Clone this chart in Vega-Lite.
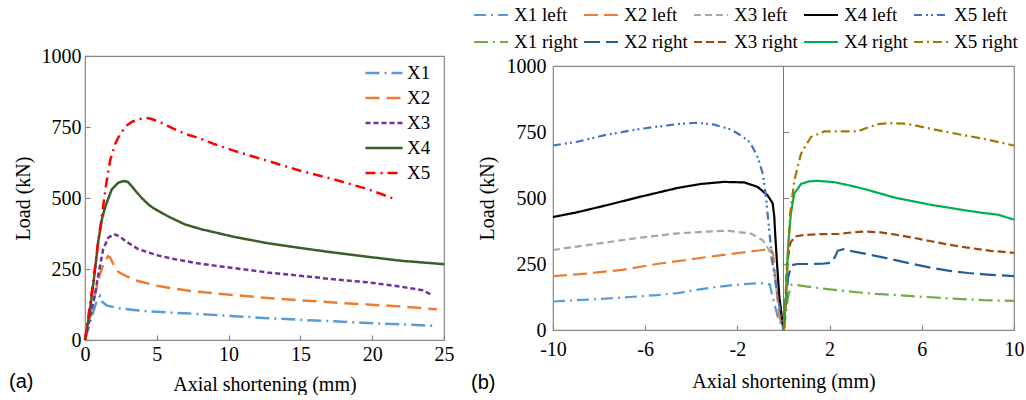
{
  "$schema": "https://vega.github.io/schema/vega-lite/v6.json",
  "background": "white",
  "padding": {"left": 8, "top": 4, "right": 0, "bottom": 0},
  "bounds": "flush",
  "center": true,
  "spacing": 109,
  "datasets": {
    "a": [
      {"s":"X1","x":0,"y":0},{"s":"X1","x":0.4,"y":70},{"s":"X1","x":0.8,"y":135},{"s":"X1","x":1.05,"y":155},{"s":"X1","x":1.2,"y":135},{"s":"X1","x":1.5,"y":122},{"s":"X1","x":2.3,"y":112},{"s":"X1","x":3.4,"y":106},{"s":"X1","x":4.6,"y":100},{"s":"X1","x":7,"y":94},{"s":"X1","x":8.1,"y":91},{"s":"X1","x":10.4,"y":84},{"s":"X1","x":12.7,"y":77},{"s":"X1","x":15,"y":71},{"s":"X1","x":17.3,"y":66},{"s":"X1","x":19.7,"y":60},{"s":"X1","x":22,"y":55},{"s":"X1","x":24.3,"y":50},
      {"s":"X2","x":0,"y":0},{"s":"X2","x":0.3,"y":70},{"s":"X2","x":0.58,"y":137},{"s":"X2","x":1.04,"y":232},{"s":"X2","x":1.3,"y":270},{"s":"X2","x":1.6,"y":295},{"s":"X2","x":1.75,"y":290},{"s":"X2","x":2.0,"y":265},{"s":"X2","x":2.32,"y":240},{"s":"X2","x":2.74,"y":228},{"s":"X2","x":3.5,"y":210},{"s":"X2","x":5.1,"y":190},{"s":"X2","x":7,"y":175},{"s":"X2","x":8.1,"y":169},{"s":"X2","x":10.4,"y":158},{"s":"X2","x":12.7,"y":148},{"s":"X2","x":15,"y":140},{"s":"X2","x":17.3,"y":132},{"s":"X2","x":19.7,"y":125},{"s":"X2","x":22,"y":118},{"s":"X2","x":24.5,"y":108},
      {"s":"X3","x":0,"y":0},{"s":"X3","x":0.3,"y":70},{"s":"X3","x":0.7,"y":160},{"s":"X3","x":0.93,"y":231},{"s":"X3","x":1.27,"y":320},{"s":"X3","x":1.62,"y":360},{"s":"X3","x":2.0,"y":373},{"s":"X3","x":2.4,"y":365},{"s":"X3","x":2.8,"y":349},{"s":"X3","x":3.7,"y":320},{"s":"X3","x":5.06,"y":298},{"s":"X3","x":6.2,"y":285},{"s":"X3","x":8.1,"y":268},{"s":"X3","x":10.4,"y":253},{"s":"X3","x":12.7,"y":238},{"s":"X3","x":15,"y":226},{"s":"X3","x":17.3,"y":214},{"s":"X3","x":19.7,"y":203},{"s":"X3","x":22,"y":188},{"s":"X3","x":23.5,"y":175},{"s":"X3","x":24.1,"y":160},
      {"s":"X4","x":0,"y":0},{"s":"X4","x":0.3,"y":90},{"s":"X4","x":0.58,"y":197},{"s":"X4","x":0.93,"y":349},{"s":"X4","x":1.2,"y":430},{"s":"X4","x":1.39,"y":466},{"s":"X4","x":1.86,"y":530},{"s":"X4","x":2.32,"y":554},{"s":"X4","x":2.74,"y":560},{"s":"X4","x":3.0,"y":556},{"s":"X4","x":3.25,"y":542},{"s":"X4","x":3.6,"y":520},{"s":"X4","x":3.95,"y":500},{"s":"X4","x":4.4,"y":478},{"s":"X4","x":4.8,"y":463},{"s":"X4","x":5.8,"y":435},{"s":"X4","x":6.96,"y":407},{"s":"X4","x":8.1,"y":390},{"s":"X4","x":10.4,"y":363},{"s":"X4","x":12.7,"y":341},{"s":"X4","x":15,"y":324},{"s":"X4","x":17.3,"y":308},{"s":"X4","x":19.7,"y":293},{"s":"X4","x":22,"y":279},{"s":"X4","x":25,"y":267},
      {"s":"X5","x":0,"y":0},{"s":"X5","x":0.2,"y":70},{"s":"X5","x":0.5,"y":180},{"s":"X5","x":0.7,"y":255},{"s":"X5","x":0.9,"y":340},{"s":"X5","x":1.16,"y":431},{"s":"X5","x":1.45,"y":540},{"s":"X5","x":1.74,"y":630},{"s":"X5","x":2.1,"y":690},{"s":"X5","x":2.44,"y":725},{"s":"X5","x":2.9,"y":755},{"s":"X5","x":3.25,"y":768},{"s":"X5","x":3.8,"y":778},{"s":"X5","x":4.2,"y":782},{"s":"X5","x":4.6,"y":779},{"s":"X5","x":5.3,"y":765},{"s":"X5","x":6.0,"y":748},{"s":"X5","x":7.0,"y":725},{"s":"X5","x":8.0,"y":710},{"s":"X5","x":9,"y":690},{"s":"X5","x":10.4,"y":666},{"s":"X5","x":12.7,"y":631},{"s":"X5","x":15,"y":596},{"s":"X5","x":17.3,"y":566},{"s":"X5","x":19.7,"y":531},{"s":"X5","x":21.6,"y":496}
    ],
    "b": [
      {"s":"X1 left","x":-10,"y":108},{"s":"X1 left","x":-8.5,"y":115},{"s":"X1 left","x":-7,"y":123},{"s":"X1 left","x":-5.5,"y":132},{"s":"X1 left","x":-4.6,"y":140},{"s":"X1 left","x":-3.8,"y":152},{"s":"X1 left","x":-3.0,"y":162},{"s":"X1 left","x":-2.1,"y":171},{"s":"X1 left","x":-1.0,"y":178},{"s":"X1 left","x":-0.6,"y":173},{"s":"X1 left","x":-0.47,"y":125},{"s":"X1 left","x":-0.25,"y":50},{"s":"X1 left","x":0,"y":0},
      {"s":"X2 left","x":-10,"y":204},{"s":"X2 left","x":-8.5,"y":214},{"s":"X2 left","x":-7,"y":228},{"s":"X2 left","x":-5.5,"y":250},{"s":"X2 left","x":-4,"y":268},{"s":"X2 left","x":-3,"y":280},{"s":"X2 left","x":-2.1,"y":290},{"s":"X2 left","x":-1,"y":302},{"s":"X2 left","x":-0.55,"y":307},{"s":"X2 left","x":-0.45,"y":290},{"s":"X2 left","x":-0.33,"y":175},{"s":"X2 left","x":-0.18,"y":50},{"s":"X2 left","x":0,"y":0},
      {"s":"X3 left","x":-10,"y":303},{"s":"X3 left","x":-8,"y":328},{"s":"X3 left","x":-6.2,"y":350},{"s":"X3 left","x":-4.6,"y":366},{"s":"X3 left","x":-3.3,"y":373},{"s":"X3 left","x":-2.4,"y":376},{"s":"X3 left","x":-1.41,"y":365},{"s":"X3 left","x":-0.9,"y":340},{"s":"X3 left","x":-0.62,"y":302},{"s":"X3 left","x":-0.4,"y":226},{"s":"X3 left","x":-0.18,"y":100},{"s":"X3 left","x":0,"y":0},
      {"s":"X4 left","x":-10,"y":428},{"s":"X4 left","x":-9,"y":445},{"s":"X4 left","x":-7.7,"y":472},{"s":"X4 left","x":-6.2,"y":505},{"s":"X4 left","x":-4.6,"y":538},{"s":"X4 left","x":-3.6,"y":553},{"s":"X4 left","x":-2.6,"y":561},{"s":"X4 left","x":-1.7,"y":559},{"s":"X4 left","x":-1.12,"y":542},{"s":"X4 left","x":-0.69,"y":510},{"s":"X4 left","x":-0.47,"y":480},{"s":"X4 left","x":-0.4,"y":430},{"s":"X4 left","x":-0.37,"y":378},{"s":"X4 left","x":-0.28,"y":251},{"s":"X4 left","x":-0.18,"y":125},{"s":"X4 left","x":0,"y":0},
      {"s":"X5 left","x":-10,"y":699},{"s":"X5 left","x":-9,"y":712},{"s":"X5 left","x":-7.7,"y":739},{"s":"X5 left","x":-6.2,"y":762},{"s":"X5 left","x":-4.6,"y":780},{"s":"X5 left","x":-3.8,"y":785},{"s":"X5 left","x":-3.0,"y":778},{"s":"X5 left","x":-2.3,"y":760},{"s":"X5 left","x":-1.84,"y":737},{"s":"X5 left","x":-1.46,"y":712},{"s":"X5 left","x":-1.27,"y":681},{"s":"X5 left","x":-1.1,"y":650},{"s":"X5 left","x":-0.9,"y":592},{"s":"X5 left","x":-0.76,"y":504},{"s":"X5 left","x":-0.62,"y":378},{"s":"X5 left","x":-0.47,"y":251},{"s":"X5 left","x":-0.25,"y":125},{"s":"X5 left","x":0,"y":0},
      {"s":"X1 right","x":0,"y":0},{"s":"X1 right","x":0.1,"y":60},{"s":"X1 right","x":0.2,"y":130},{"s":"X1 right","x":0.35,"y":172},{"s":"X1 right","x":0.6,"y":170},{"s":"X1 right","x":0.9,"y":166},{"s":"X1 right","x":1.6,"y":158},{"s":"X1 right","x":2.45,"y":150},{"s":"X1 right","x":3.2,"y":143},{"s":"X1 right","x":4.0,"y":137},{"s":"X1 right","x":4.8,"y":133},{"s":"X1 right","x":5.6,"y":128},{"s":"X1 right","x":6.4,"y":124},{"s":"X1 right","x":7.15,"y":120},{"s":"X1 right","x":8,"y":116},{"s":"X1 right","x":8.7,"y":113},{"s":"X1 right","x":10,"y":110},
      {"s":"X2 right","x":0,"y":0},{"s":"X2 right","x":0.1,"y":100},{"s":"X2 right","x":0.2,"y":200},{"s":"X2 right","x":0.35,"y":245},{"s":"X2 right","x":0.6,"y":250},{"s":"X2 right","x":1.2,"y":250},{"s":"X2 right","x":1.7,"y":251},{"s":"X2 right","x":2.1,"y":255},{"s":"X2 right","x":2.25,"y":280},{"s":"X2 right","x":2.35,"y":300},{"s":"X2 right","x":2.6,"y":306},{"s":"X2 right","x":3.0,"y":298},{"s":"X2 right","x":3.6,"y":288},{"s":"X2 right","x":4.2,"y":277},{"s":"X2 right","x":5.0,"y":262},{"s":"X2 right","x":5.6,"y":250},{"s":"X2 right","x":6.4,"y":236},{"s":"X2 right","x":7.15,"y":225},{"s":"X2 right","x":8,"y":216},{"s":"X2 right","x":8.7,"y":211},{"s":"X2 right","x":10,"y":204},
      {"s":"X3 right","x":0,"y":0},{"s":"X3 right","x":0.08,"y":100},{"s":"X3 right","x":0.15,"y":250},{"s":"X3 right","x":0.3,"y":330},{"s":"X3 right","x":0.5,"y":355},{"s":"X3 right","x":0.9,"y":360},{"s":"X3 right","x":1.6,"y":363},{"s":"X3 right","x":2.4,"y":364},{"s":"X3 right","x":3.0,"y":370},{"s":"X3 right","x":3.6,"y":373},{"s":"X3 right","x":4.2,"y":370},{"s":"X3 right","x":4.8,"y":362},{"s":"X3 right","x":5.6,"y":350},{"s":"X3 right","x":6.4,"y":336},{"s":"X3 right","x":7.2,"y":323},{"s":"X3 right","x":7.9,"y":313},{"s":"X3 right","x":9,"y":300},{"s":"X3 right","x":10,"y":292},
      {"s":"X4 right","x":0,"y":0},{"s":"X4 right","x":0.11,"y":125},{"s":"X4 right","x":0.2,"y":316},{"s":"X4 right","x":0.32,"y":441},{"s":"X4 right","x":0.47,"y":517},{"s":"X4 right","x":0.76,"y":553},{"s":"X4 right","x":1.1,"y":563},{"s":"X4 right","x":1.5,"y":565},{"s":"X4 right","x":2.2,"y":560},{"s":"X4 right","x":2.9,"y":547},{"s":"X4 right","x":3.6,"y":532},{"s":"X4 right","x":4.2,"y":517},{"s":"X4 right","x":4.8,"y":502},{"s":"X4 right","x":5.6,"y":488},{"s":"X4 right","x":6.4,"y":474},{"s":"X4 right","x":7.2,"y":463},{"s":"X4 right","x":7.9,"y":453},{"s":"X4 right","x":8.7,"y":443},{"s":"X4 right","x":9.3,"y":437},{"s":"X4 right","x":10,"y":418},
      {"s":"X5 right","x":0,"y":0},{"s":"X5 right","x":0.05,"y":11},{"s":"X5 right","x":0.11,"y":125},{"s":"X5 right","x":0.18,"y":277},{"s":"X5 right","x":0.29,"y":441},{"s":"X5 right","x":0.47,"y":567},{"s":"X5 right","x":0.76,"y":668},{"s":"X5 right","x":1.19,"y":731},{"s":"X5 right","x":1.77,"y":752},{"s":"X5 right","x":2.5,"y":752},{"s":"X5 right","x":3.2,"y":752},{"s":"X5 right","x":3.6,"y":765},{"s":"X5 right","x":4.1,"y":780},{"s":"X5 right","x":4.6,"y":784},{"s":"X5 right","x":5.2,"y":782},{"s":"X5 right","x":5.6,"y":777},{"s":"X5 right","x":6.4,"y":762},{"s":"X5 right","x":7.15,"y":749},{"s":"X5 right","x":8,"y":735},{"s":"X5 right","x":8.7,"y":724},{"s":"X5 right","x":10,"y":699}
    ]
  },
  "hconcat": [
    {
      "width": 359,
      "height": 284,
      "data": {"name": "a"},
      "title": {"text": "(a)", "orient": "bottom", "anchor": "start", "frame": "bounds", "font": "Liberation Sans", "fontSize": 20, "fontWeight": "normal", "color": "#000", "offset": -22, "dx": -4},
      "mark": {"type": "line", "strokeWidth": 2.5},
      "encoding": {
        "x": {"field": "x", "type": "quantitative", "scale": {"domain": [0, 25]}, "axis": {"title": "Axial shortening (mm)", "values": [0, 5, 10, 15, 20, 25], "format": "d", "labelFont": "Liberation Serif", "labelFlush": false, "tickSize": -5, "labelPadding": 9, "titlePadding": 10}},
        "y": {"field": "y", "type": "quantitative", "scale": {"domain": [0, 1000]}, "axis": {"title": "Load (kN)", "values": [0, 250, 500, 750, 1000], "format": "d", "labelFont": "Liberation Serif", "labelFlush": false, "tickSize": -5, "labelPadding": 9, "titlePadding": 8}},
        "color": {"field": "s", "type": "nominal", "scale": {"domain": ["X1", "X2", "X3", "X4", "X5"], "range": ["#5b9bd5", "#ed7d31", "#7030a0", "#3b5e2b", "#ff0000"]},
          "legend": {"orient": "none", "legendX": 279, "legendY": 7, "title": null, "direction": "vertical", "symbolType": "stroke", "symbolSize": 1369, "symbolStrokeWidth": 2.5, "clipHeight": 20, "rowPadding": 5, "labelOffset": 3, "labelFontSize": 19, "padding": 0}},
        "strokeDash": {"field": "s", "type": "nominal", "scale": {"domain": ["X1", "X2", "X3", "X4", "X5"], "range": [[14, 5, 2, 5], [14, 7], [5, 3], [1, 0], [10, 5, 2, 5]]},
          "legend": {"orient": "none", "legendX": 279, "legendY": 7, "title": null, "direction": "vertical", "symbolType": "stroke", "symbolSize": 1369, "symbolStrokeWidth": 2.5, "clipHeight": 20, "rowPadding": 5, "labelOffset": 3, "labelFontSize": 19, "padding": 0}}
      }
    },
    {
      "width": 461,
      "height": 264,
      "title": {"text": "(b)", "orient": "bottom", "anchor": "start", "frame": "bounds", "font": "Liberation Sans", "fontSize": 20, "fontWeight": "normal", "color": "#000", "offset": -18, "dx": -2},
      "layer": [
        {
          "data": {"name": "b"},
          "mark": {"type": "line", "strokeWidth": 2.2},
          "encoding": {
            "x": {"field": "x", "type": "quantitative", "scale": {"domain": [-10, 10]}, "axis": {"title": "Axial shortening (mm)", "values": [-10, -6, -2, 2, 6, 10], "labelExpr": "'' + datum.value", "labelFont": "Liberation Serif", "labelFlush": false, "tickSize": -5, "labelPadding": 14, "titlePadding": 12}},
            "y": {"field": "y", "type": "quantitative", "scale": {"domain": [0, 1000]}, "axis": {"orient": "left", "title": "Load (kN)", "values": [0, 250, 500, 750, 1000], "format": "d", "labelFont": "Liberation Serif", "labelFlush": false, "ticks": false, "labelPadding": 7, "titlePadding": 9}},
            "color": {"field": "s", "type": "nominal", "scale": {"domain": ["X1 left", "X2 left", "X3 left", "X4 left", "X5 left", "X1 right", "X2 right", "X3 right", "X4 right", "X5 right"], "range": ["#5b9bd5", "#ed7d31", "#a5a5a5", "#000000", "#4472c4", "#70ad47", "#255e91", "#9e480e", "#00b050", "#a07a00"]},
              "legend": {"orient": "none", "legendX": -80, "legendY": -61, "direction": "horizontal", "columns": 5, "title": null, "symbolType": "stroke", "symbolSize": 1156, "symbolStrokeWidth": 2, "clipHeight": 20, "rowPadding": 7, "columnPadding": 5, "labelOffset": 5, "labelFontSize": 19, "padding": 0}},
            "strokeDash": {"field": "s", "type": "nominal", "scale": {"domain": ["X1 left", "X2 left", "X3 left", "X4 left", "X5 left", "X1 right", "X2 right", "X3 right", "X4 right", "X5 right"], "range": [[12, 5, 2, 5], [14, 6], [7, 4], [1, 0], [8, 4, 2, 3, 2, 4], [14, 5, 2, 5], [16, 6], [8, 4], [1, 0], [9, 4, 2, 4]]},
              "legend": {"orient": "none", "legendX": -80, "legendY": -61, "direction": "horizontal", "columns": 5, "title": null, "symbolType": "stroke", "symbolSize": 1156, "symbolStrokeWidth": 2, "clipHeight": 20, "rowPadding": 7, "columnPadding": 5, "labelOffset": 5, "labelFontSize": 19, "padding": 0}}
          }
        },
        {
          "data": {"values": [{}]},
          "mark": {"type": "rule", "color": "#777", "strokeWidth": 1},
          "encoding": {
            "x": {"datum": 0, "type": "quantitative", "axis": {"title": "Axial shortening (mm)", "values": [-10, -6, -2, 2, 6, 10], "labelExpr": "'' + datum.value", "labelFont": "Liberation Serif", "labelFlush": false, "tickSize": -5, "labelPadding": 14, "titlePadding": 12}},
            "y": {"datum": 0, "type": "quantitative", "axis": {"orient": "right", "offset": -230.5, "labels": false, "title": null, "domain": false, "tickSize": 5, "values": [250, 500, 750]}},
            "y2": {"datum": 1000}
          }
        }
      ],
      "resolve": {"axis": {"y": "independent"}}
    }
  ],
  "resolve": {"scale": {"color": "independent", "strokeDash": "independent"}, "legend": {"color": "independent", "strokeDash": "independent"}},
  "config": {
    "font": "Liberation Serif",
    "view": {"stroke": "#888", "strokeWidth": 1.2},
    "axis": {"labelFont": "Liberation Serif", "labelFontSize": 20, "labelColor": "#000", "labelFlush": false, "titleFont": "Liberation Serif", "titleFontSize": 20, "titleFontWeight": "normal", "titleColor": "#000", "grid": false, "domain": false, "tickColor": "#888", "tickWidth": 1.2},
    "legend": {"labelFont": "Liberation Serif", "labelColor": "#000"}
  }
}
